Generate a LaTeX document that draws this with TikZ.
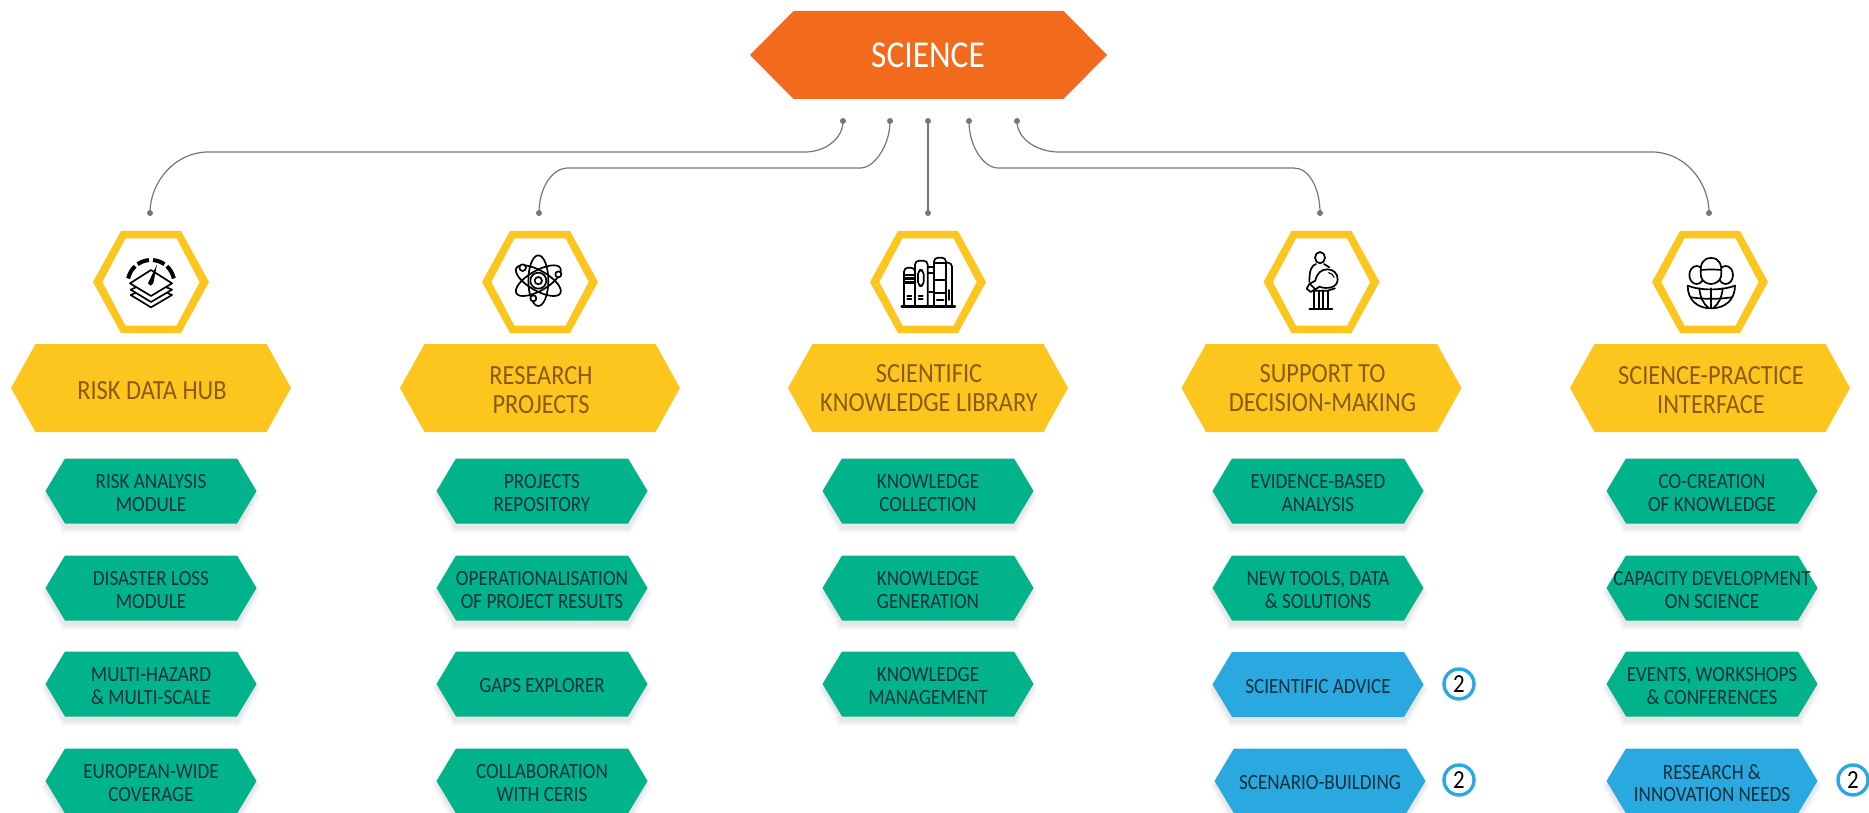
\documentclass[tikz,border=0pt]{standalone}
\usepackage{fontspec}
\newfontfamily\hexfont[FakeStretch=0.88]{Carlito}
\definecolor{orangeS}{HTML}{F26A1B}
\definecolor{yellowS}{HTML}{FDC61F}
\definecolor{greenS}{HTML}{00B38B}
\definecolor{blueS}{HTML}{2AA8E0}
\definecolor{brownS}{HTML}{8A5A12}
\definecolor{inkS}{HTML}{10303C}
\definecolor{lineS}{HTML}{777777}
\tikzset{
  conn/.style={draw=lineS,line width=1.2pt},
  enddot/.style={fill=lineS},
  txtbig/.style={inner sep=0pt,align=center,text=brownS,font=\hexfont\fontsize{27.7}{28.5}\selectfont},
  txtrow/.style={inner sep=0pt,align=center,text=inkS,font=\hexfont\fontsize{21.7}{22.5}\selectfont},
  txttop/.style={inner sep=0pt,align=center,text=white,font=\hexfont\fontsize{38}{39}\selectfont},
  txtnum/.style={circle,draw=blueS,line width=3.4pt,minimum size=30pt,inner sep=0pt,text=black,font=\hexfont\fontsize{26}{26}\selectfont},
  ic/.style={draw=black,line width=1.7pt,line cap=round,line join=round},
  icw/.style={ic,fill=white},
  icb/.style={draw=black,line width=4pt},
}
% cx, cy, half width, half top width, half height
\newcommand{\hexpath}[5]{(#1-#3,#2) -- (#1-#4,#2-#5) -- (#1+#4,#2-#5) -- (#1+#3,#2) -- (#1+#4,#2+#5) -- (#1-#4,#2+#5) -- cycle}
\newcommand{\bighex}[4]{%
  \fill[yellowS] \hexpath{#2}{388}{140}{115.5}{44};
  \node[txtbig] (#1) at (#2+1,#4) {#3};}
\newcommand{\rowhex}[5]{%
  \fill[black,opacity=.025] \hexpath{#2}{#3+5}{110}{89}{37};
  \fill[black,opacity=.03] \hexpath{#2}{#3+5}{108}{88}{35};
  \fill[black,opacity=.04] \hexpath{#2}{#3+4}{106}{87}{34};
  \fill[#4] \hexpath{#2}{#3}{105.5}{86}{32.5};
  \node[txtrow] (#1) at (#2,#3+2) {#5};}
\newcommand{\iconhex}[2]{%
  \fill[yellowS] \hexpath{#2}{282}{58}{30}{51};
  \fill[white] \hexpath{#2}{282}{48.5}{25.5}{43.5};
  \coordinate (#1) at (#2,282);}
\begin{document}
\begin{tikzpicture}[x=1pt,y=-1pt]
\clip (0,0) rectangle (1869,813);
\fill[white] (0,0) rectangle (1869,813);

% top
\fill[orangeS] \hexpath{928.5}{55}{178.5}{135}{44};
\node[txttop] (science) at (928,55) {SCIENCE};

% connector ends
\coordinate (a1) at (843,121); \coordinate (c1) at (805,152); \coordinate (d1) at (208,152); \coordinate (b1) at (150,213);
\coordinate (a2) at (890,121); \coordinate (c2) at (861,168); \coordinate (d2) at (568,168); \coordinate (b2) at (539,213);
\coordinate (a3) at (928,121); \coordinate (b3) at (928,213);
\coordinate (a4) at (969,121); \coordinate (c4) at (998,168); \coordinate (d4) at (1294,168); \coordinate (b4) at (1320,213);
\coordinate (a5) at (1017,121); \coordinate (c5) at (1059,152); \coordinate (d5) at (1652,152); \coordinate (b5) at (1709,213);
\draw[conn] (a1) .. controls +(0,18) and +(20,0) .. (c1) -- (d1) .. controls +(-32,0) and +(0,-32) .. (b1);
\draw[conn] (a2) .. controls +(0,26) and +(12,0) .. (c2) -- (d2) .. controls +(-16,0) and +(0,-25) .. (b2);
\draw[conn] (a3) -- (b3);
\draw[conn] (a4) .. controls +(0,26) and +(-14,0) .. (c4) -- (d4) .. controls +(15,0) and +(0,-25) .. (b4);
\draw[conn] (a5) .. controls +(0,18) and +(-22,0) .. (c5) -- (d5) .. controls +(32,0) and +(0,-32) .. (b5);
\foreach \p in {a1,a2,a3,a4,a5,b1,b2,b3,b4,b5} \fill[enddot] (\p) circle[radius=3];

% icon hexagons
\iconhex{ih1}{151}
\iconhex{ih2}{540}
\iconhex{ih3}{928}
\iconhex{ih4}{1321.5}
\iconhex{ih5}{1710}

% icon 1: gauge over layers
\begin{scope}[shift={(80,220)},x=.33333pt,y=-.33333pt]
  \draw[icb] (213,190) ++(-168:70) arc[start angle=-168,end angle=-133,radius=70];
  \draw[icb] (213,190) ++(-125:70) arc[start angle=-125,end angle=-95,radius=70];
  \draw[icb] (213,190) ++(-85:70) arc[start angle=-85,end angle=-55,radius=70];
  \draw[icb] (213,190) ++(-47:70) arc[start angle=-47,end angle=-12,radius=70];
  \draw[icw] (213,198) -- (276,225) -- (213,262) -- (152,225) -- cycle;
  \draw[icw] (213,182) -- (276,209) -- (213,246) -- (152,209) -- cycle;
  \draw[icw] (213,150) -- (276,190) -- (213,228) -- (150,190) -- cycle;
  \fill[black] (231,133) -- (220,190) -- (212,197) -- (204,190) -- cycle;
\end{scope}

% icon 2: atom
\begin{scope}[shift={(470,220)},x=.33333pt,y=-.33333pt]
  \draw[ic] (205,182) ellipse[x radius=30,y radius=76];
  \draw[ic,rotate around={60:(205,182)}] (205,182) ellipse[x radius=30,y radius=76];
  \draw[ic,rotate around={-60:(205,182)}] (205,182) ellipse[x radius=30,y radius=76];
  \draw[icw] (205,182) circle[radius=24];
  \draw[ic] (205,182) circle[radius=11];
  \draw[icw] (158,143) circle[radius=10];
  \draw[icw] (265,163) circle[radius=9];
  \draw[icw] (190,235) circle[radius=9];
\end{scope}

% icon 3: books
\begin{scope}[shift={(860,220)},x=.33333pt,y=-.33333pt]
  \draw[ic,rounded corners=4pt] (132,258) -- (132,143) -- (165,143) -- (165,258);
  \draw[ic,line width=2.4pt] (132,165) -- (165,165) (132,176) -- (165,176) (132,187) -- (165,187);
  \draw[ic] (142,227) -- (154,227) (142,236) -- (154,236);
  \draw[ic,rounded corners=4pt] (165,258) -- (165,122) -- (203,122) -- (203,258);
  \draw[ic,rounded corners=4pt] (174,150) rectangle (191,198);
  \draw[ic] (176,227) -- (188,227) (176,236) -- (188,236);
  \draw[ic] (203,140) -- (222,140) (203,160) -- (222,160) (207,215) -- (222,215);
  \draw[ic,rounded corners=4pt] (222,258) -- (222,113) -- (258,113) -- (258,258);
  \draw[ic] (222,128) -- (258,128) (222,180) -- (258,180) (222,218) -- (258,218);
  \draw[ic,line width=2.4pt] (231,240) -- (250,240);
  \draw[ic,rounded corners=4pt] (258,128) -- (276,128) -- (276,258);
  \draw[ic] (266,210) -- (266,240);
  \draw[ic,line width=2.4pt] (125,259) -- (285,259);
\end{scope}

% icon 4: person with bulb
\begin{scope}[shift={(1250,220)},x=.33333pt,y=-.33333pt]
  \draw[ic] (210,113) ellipse[x radius=15,y radius=17];
  \draw[ic] (198,132) .. controls (185,136) and (178,150) .. (178,186);
  \draw[ic] (222,132) -- (238,142);
  \draw[ic] (193,212) -- (193,265) (207,212) -- (207,265) (220,212) -- (220,265) (233,212) -- (233,265);
  \draw[ic] (193,212) -- (233,212) -- (255,205);
  \draw[icw] (263,178) .. controls (263,160) and (250,148) .. (232,148) .. controls (214,148) and (200,160) .. (196,182) -- (178,192) -- (170,206) -- (182,216) -- (196,208) -- (208,200) .. controls (228,208) and (263,205) .. (263,178) -- cycle;
  \draw[ic] (182,194) -- (196,208);
  \draw[ic,line width=1.1pt] (236,158) .. controls (245,160) and (250,165) .. (252,172);
  \draw[ic] (178,267) -- (247,267);
\end{scope}

% icon 5: people on a globe
\begin{scope}[shift={(1640,220)},x=.33333pt,y=-.33333pt]
  \draw[icw] (170,165) ellipse[x radius=22,y radius=27];
  \draw[icw] (257,165) ellipse[x radius=22,y radius=27];
  \draw[icw] (183,170) .. controls (178,130) and (190,114) .. (213,114) .. controls (236,114) and (248,130) .. (243,170) .. controls (240,182) and (228,192) .. (213,192) .. controls (198,192) and (186,182) .. (183,170) -- cycle;
  \draw[ic] (182,150) .. controls (200,148) and (226,148) .. (244,150);
  \draw[icw] (143,197) .. controls (180,212) and (245,212) .. (285,197) .. controls (285,240) and (255,265) .. (213,265) .. controls (172,265) and (143,240) .. (143,197) -- cycle;
  \draw[ic] (213,205) -- (213,265);
  \draw[ic] (178,205) .. controls (180,230) and (190,252) .. (205,263);
  \draw[ic] (248,205) .. controls (246,230) and (236,252) .. (221,263);
  \draw[ic] (154,232) .. controls (190,238) and (236,238) .. (274,232);
\end{scope}

% heading hexagons
\bighex{h1}{151}{RISK DATA HUB}{391}
\bighex{h2}{540}{RESEARCH\\PROJECTS}{390}
\bighex{h3}{928}{SCIENTIFIC\\KNOWLEDGE LIBRARY}{388}
\bighex{h4}{1321.5}{SUPPORT TO\\DECISION-MAKING}{388}
\bighex{h5}{1710}{SCIENCE-PRACTICE\\INTERFACE}{390}

% rows
\rowhex{r11}{151}{491}{greenS}{RISK ANALYSIS\\MODULE}
\rowhex{r12}{151}{588}{greenS}{DISASTER LOSS\\MODULE}
\rowhex{r13}{151}{684}{greenS}{MULTI-HAZARD\\\& MULTI-SCALE}
\rowhex{r14}{151}{781}{greenS}{EUROPEAN-WIDE\\COVERAGE}

\rowhex{r21}{542}{491}{greenS}{PROJECTS\\REPOSITORY}
\rowhex{r22}{542}{588}{greenS}{OPERATIONALISATION\\OF PROJECT RESULTS}
\rowhex{r23}{542}{684}{greenS}{GAPS EXPLORER}
\rowhex{r24}{542}{781}{greenS}{COLLABORATION\\WITH CERIS}

\rowhex{r31}{928}{491}{greenS}{KNOWLEDGE\\COLLECTION}
\rowhex{r32}{928}{588}{greenS}{KNOWLEDGE\\GENERATION}
\rowhex{r33}{928}{684}{greenS}{KNOWLEDGE\\MANAGEMENT}

\rowhex{r41}{1318}{491}{greenS}{EVIDENCE-BASED\\ANALYSIS}
\rowhex{r42}{1318}{588}{greenS}{NEW TOOLS, DATA\\\& SOLUTIONS}
\rowhex{r43}{1318}{684.5}{blueS}{SCIENTIFIC ADVICE}
\rowhex{r44}{1320}{781}{blueS}{SCENARIO-BUILDING}

\rowhex{r51}{1712}{491}{greenS}{CO-CREATION\\OF KNOWLEDGE}
\rowhex{r52}{1712}{588}{greenS}{CAPACITY DEVELOPMENT\\ON SCIENCE}
\rowhex{r53}{1712}{684}{greenS}{EVENTS, WORKSHOPS\\\& CONFERENCES}
\rowhex{r54}{1712}{781}{blueS}{RESEARCH \&\\INNOVATION NEEDS}

% footnote marks
\node[txtnum] (n1) at (1459,684) {2};
\node[txtnum] (n2) at (1459,780) {2};
\node[txtnum] (n3) at (1853,780) {2};
\end{tikzpicture}
\end{document}
